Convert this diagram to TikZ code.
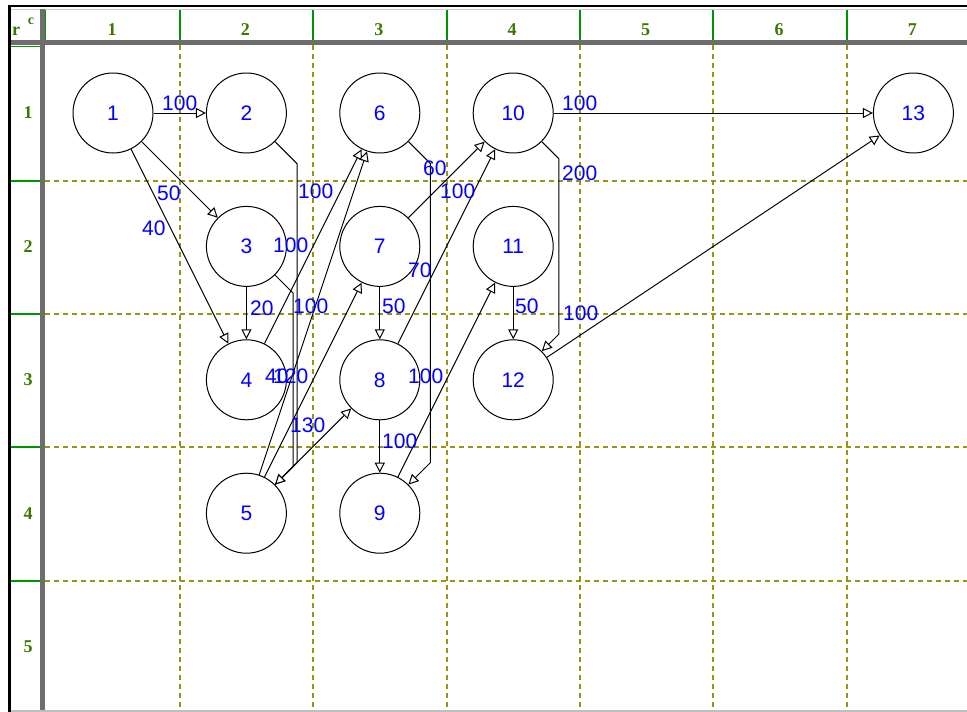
\documentclass[tikz,border=0pt]{standalone}
\usepackage{fontspec}
\setmainfont{Liberation Sans}
\newfontfamily\hdrfont{Liberation Serif}
\usetikzlibrary{arrows.meta,calc}
\definecolor{hdrgreen}{RGB}{60,120,0}
\definecolor{hdrline}{RGB}{0,150,0}
\definecolor{gridolive}{RGB}{150,150,20}
\definecolor{bandgray}{RGB}{110,110,110}
\begin{document}
\begin{tikzpicture}[x=1pt,y=-1pt,
  vtx/.style={circle, draw=black, line width=1pt, minimum size=80pt, inner sep=0pt, fill=white,
    font=\fontsize{21}{21}\selectfont, text=blue},
  edge/.style={draw=black, line width=1pt, -{Triangle[fill=white, length=10pt, width=10pt]}},
  wlbl/.style={font=\fontsize{21}{21}\selectfont, text=blue, inner sep=0pt, anchor=base west},
  hdr/.style={font=\hdrfont\bfseries\fontsize{18}{18}\selectfont, text=hdrgreen, inner sep=0pt},
  gridln/.style={draw=gridolive, line width=1.8pt, dash pattern=on 5pt off 4pt},
  hline/.style={draw=hdrline, line width=1.6pt}]
\useasboundingbox (0,0) rectangle (967,712);
\fill[white] (0,0) rectangle (967,712);
% dashed grid
\foreach \gx in {180,313,447,580,713,847} { \draw[gridln] (\gx,45) -- (\gx,712); }
\foreach \gy in {181,314,447,581} { \draw[gridln] (45,\gy) -- (967,\gy); }
% frame
\draw[gray!40, line width=1pt] (11,9) -- (967,9);
\draw[bandgray, line width=5pt] (11,42) -- (967,42);
\draw[bandgray, line width=5pt] (42,9) -- (42,712);
\draw[gray!50, line width=2pt] (9,711) -- (967,711);
\draw[black, line width=2.5pt] (8,6) -- (967,6);
\draw[black, line width=2.5pt] (9.5,5) -- (9.5,712);
% header separators
\draw[hline] (45.5,10) -- (45.5,40);
\foreach \gx in {180,313,447,580,713,847} { \draw[hline] (\gx,10) -- (\gx,40); }
\draw[hline] (11,46.5) -- (40,46.5);
\foreach \gy in {181,314,447,581} { \draw[hline] (11,\gy) -- (40,\gy); }
% header labels
\node[hdr] (hr) at (16,31) {r};
\node[hdr, font=\hdrfont\bfseries\fontsize{14}{14}\selectfont] (hc) at (31,21) {c};
\foreach \c in {1,...,7} { \node[hdr] (col\c) at ({112+133.4*(\c-1)},29.5) {\c}; }
\foreach \r in {1,...,5} { \node[hdr] (row\r) at (28,{113+133.4*(\r-1)}) {\r}; }
% vertices
\node[vtx] (n1) at (113,113) {1};
\node[vtx] (n2) at (246.4,113) {2};
\node[vtx] (n6) at (379.8,113) {6};
\node[vtx] (n10) at (513.2,113) {10};
\node[vtx] (n13) at (913.4,113) {13};
\node[vtx] (n3) at (246.4,246.4) {3};
\node[vtx] (n7) at (379.8,246.4) {7};
\node[vtx] (n11) at (513.2,246.4) {11};
\node[vtx] (n4) at (246.4,379.8) {4};
\node[vtx] (n8) at (379.8,379.8) {8};
\node[vtx] (n12) at (513.2,379.8) {12};
\node[vtx] (n5) at (246.4,513.2) {5};
\node[vtx] (n9) at (379.8,513.2) {9};
% straight edges
\draw[edge] (n1) -- (n2);
\draw[edge] (n1) -- (n3);
\draw[edge] (n1) -- (n4);
\draw[edge] (n3) -- (n4);
\draw[edge] (n4) -- (n6);
\draw[edge] (n5) -- (n6);
\draw[edge] (n5) -- (n7);
\draw[edge] (n5) -- (n8);
\draw[edge] (n7) -- (n8);
\draw[edge] (n7) -- (n10);
\draw[edge] (n8) -- (n9);
\draw[edge] (n8) -- (n10);
\draw[edge] (n9) -- (n11);
\draw[edge] (n10) -- (n13);
\draw[edge] (n11) -- (n12);
\draw[edge] (n12) -- (n13);
% routed edges
\draw[edge] (n2.-45) -- ++(22,22) -- ($(n5.45)+(22,-22)$) -- (n5.45);
\draw[edge] (n3.-45) -- ++(18,18) -- ($(n5.45)+(18,-18)$) -- (n5.45);
\draw[edge] (n6.-45) -- ++(22,22) -- ($(n9.45)+(22,-22)$) -- (n9.45);
\draw[edge] (n10.-45) -- ++(17,17) -- ($(n12.45)+(17,-17)$) -- (n12.45);
% weights
\node[wlbl] (w12) at (162,110) {100};
\node[wlbl] (w13) at (157,200) {50};
\node[wlbl] (w14) at (142,235) {40};
\node[wlbl] (w25) at (298,198) {100};
\node[wlbl] (w46) at (273,252) {100};
\node[wlbl] (w34) at (250,315) {20};
\node[wlbl] (w35) at (293,313) {100};
\node[wlbl] (w56) at (265,383) {40};
\node[wlbl] (w57) at (273,383) {120};
\node[wlbl] (w58) at (290,432) {130};
\node[wlbl] (w69) at (423,175) {60};
\node[wlbl] (w710) at (440,198) {100};
\node[wlbl] (w810) at (408,277) {70};
\node[wlbl] (w78) at (382,313) {50};
\node[wlbl] (w911) at (408,383) {100};
\node[wlbl] (w89) at (382,448) {100};
\node[wlbl] (w1013) at (562,110) {100};
\node[wlbl] (w1012) at (562,180) {200};
\node[wlbl] (w1112) at (515,313) {50};
\node[wlbl] (w1213) at (563,320) {100};
\end{tikzpicture}
\end{document}
